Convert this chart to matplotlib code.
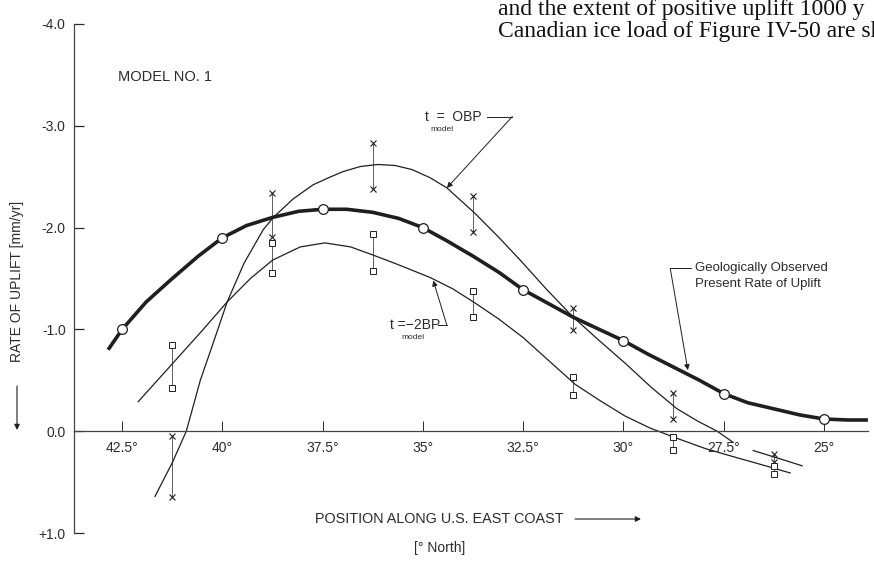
import matplotlib.pyplot as plt

plt.rcParams['font.family'] = ['Liberation Sans', 'DejaVu Sans']

# observed present rate of uplift at the coastal stations (deg N, mm/yr; negative = uplift)
obs_lat = [42.5, 40.0, 37.5, 35.0, 32.5, 30.0, 27.5, 25.0]
obs_rate = [-1.00, -1.90, -2.18, -2.00, -1.39, -0.89, -0.37, -0.12]

# smooth hand-drawn curve through the observed rates
obs_curve_lat = [42.85, 42.5, 41.9, 41.25, 40.6, 40.0, 39.4, 38.75, 38.1, 37.5,
                 36.9, 36.25, 35.6, 35.0, 34.4, 33.75, 33.1, 32.5, 31.85, 31.25,
                 30.6, 30.0, 29.4, 28.75, 28.1, 27.5, 26.9, 26.25, 25.6, 25.0,
                 24.4, 23.9]
obs_curve_rate = [-0.80, -1.00, -1.27, -1.50, -1.72, -1.90, -2.02, -2.10, -2.16, -2.18,
                  -2.18, -2.15, -2.09, -2.00, -1.87, -1.72, -1.56, -1.39, -1.25, -1.12,
                  -1.00, -0.89, -0.76, -0.63, -0.50, -0.37, -0.28, -0.22, -0.16, -0.12,
                  -0.11, -0.11]

# model t = 0 BP (broken where the 27.5 label sits)
bp0_lat_a = [41.68, 41.25, 40.90, 40.55, 40.2, 39.88, 39.46, 38.98, 38.73, 38.24,
             37.74, 37.35, 36.99, 36.56, 36.12, 35.69, 35.27, 34.82, 34.40, 33.70,
             33.12, 32.57, 31.93, 31.25, 30.6, 29.96, 29.3, 28.66, 28.15, 27.66,
             27.26]
bp0_rate_a = [0.64, 0.31, 0.00, -0.50, -0.90, -1.27, -1.65, -1.98, -2.10, -2.28,
              -2.42, -2.49, -2.55, -2.60, -2.62, -2.61, -2.57, -2.49, -2.39, -2.14,
              -1.91, -1.68, -1.40, -1.12, -0.89, -0.67, -0.43, -0.22, -0.10, 0.00,
              0.11]
bp0_lat_b = [26.76, 26.1, 25.54]
bp0_rate_b = [0.19, 0.27, 0.34]

# model t = -2 BP
bp2_lat = [42.10, 41.23, 40.50, 39.88, 39.3, 38.75, 38.06, 37.44, 36.8, 36.24,
           35.64, 34.82, 34.26, 33.70, 33.1, 32.50, 31.85, 31.20, 30.58, 29.96,
           29.33, 28.66, 27.96, 27.26, 26.54, 25.84]
bp2_rate = [-0.29, -0.67, -0.99, -1.27, -1.50, -1.68, -1.81, -1.85, -1.81, -1.73,
            -1.64, -1.51, -1.40, -1.26, -1.10, -0.92, -0.69, -0.46, -0.30, -0.15,
            -0.03, 0.07, 0.17, 0.25, 0.33, 0.41]

# range bars of the two model runs at the tide-gauge sites
bar_lat = [41.25, 38.75, 36.25, 33.75, 31.25, 28.75, 26.25]
bp0_lo = [0.05, -2.34, -2.83, -2.31, -1.21, -0.38, 0.22]
bp0_hi = [0.65, -1.91, -2.38, -1.96, -0.99, -0.12, 0.30]
bp2_lo = [-0.85, -1.85, -1.94, -1.38, -0.53, 0.06, 0.34]
bp2_hi = [-0.42, -1.55, -1.57, -1.12, -0.36, 0.18, 0.42]

xticks = [42.5, 40, 37.5, 35, 32.5, 30, 27.5, 25]
xtick_labels = ['42.5°', '40°', '37.5°', '35°', '32.5°', '30°', '27.5°', '25°']
yticks = [-4, -3, -2, -1, 0, 1]
ytick_labels = ['-4.0', '-3.0', '-2.0', '-1.0', '0.0', '+1.0']

ink = '#1f1f1f'
txt = '#2b2b2b'

fig = plt.figure(figsize=(8.74, 5.62), dpi=100)
ax = fig.add_axes([0.0847, 0.0516, 0.9083, 0.9057])
ax.set_xlim(43.7, 23.9)
ax.set_ylim(1.0, -4.0)

# curves
ax.plot(obs_curve_lat, obs_curve_rate, color=ink, lw=2.6, solid_capstyle='butt',
        solid_joinstyle='round', zorder=3)
ax.plot(obs_lat, obs_rate, 'o', ms=7, mfc='white', mec=ink, mew=0.9, zorder=4)
ax.plot(bp0_lat_a, bp0_rate_a, color=ink, lw=0.9, solid_joinstyle='round', zorder=2)
ax.plot(bp0_lat_b, bp0_rate_b, color=ink, lw=0.9, zorder=2)
ax.plot(bp2_lat, bp2_rate, color=ink, lw=0.9, solid_joinstyle='round', zorder=2)

# range bars
ax.vlines(bar_lat, bp0_lo, bp0_hi, color=ink, lw=0.5, zorder=2)
ax.vlines(bar_lat, bp2_lo, bp2_hi, color=ink, lw=0.5, zorder=2)
ax.plot(bar_lat + bar_lat, bp0_lo + bp0_hi, 'x', ms=4, mew=0.8, color=ink, zorder=4)
ax.plot(bar_lat + bar_lat, bp2_lo + bp2_hi, 's', ms=4.5, mfc='white', mec=ink,
        mew=0.7, zorder=4)

# axes styling
for side in ['top', 'right']:
    ax.spines[side].set_visible(False)
ax.spines['bottom'].set_position(('data', 0))
ax.spines['left'].set_color('#444444')
ax.spines['bottom'].set_color('#444444')
ax.spines['left'].set_linewidth(0.9)
ax.spines['bottom'].set_linewidth(0.9)
ax.set_xticks(xticks)
ax.set_xticklabels(xtick_labels)
ax.set_yticks(yticks)
ax.set_yticklabels(ytick_labels)
ax.tick_params(axis='x', direction='in', length=7, width=0.7, pad=7,
               labelsize=10, colors=txt)
ax.tick_params(axis='y', direction='in', length=7, width=0.9, pad=6,
               labelsize=10, colors=txt)

# labels
ax.text(42.6, -3.48, 'MODEL NO. 1', fontsize=10.5, color=txt, ha='left', va='center')

ax.text(34.94, -3.09, 't  =  OBP', fontsize=10, color=txt, ha='left', va='center')
ax.text(34.52, -2.96, 'model', fontsize=6, color=txt, ha='center', va='center')
ax.plot([33.40, 32.77], [-3.09, -3.09], color=ink, lw=0.7)
ax.annotate('', xy=(34.40, -2.39), xytext=(32.77, -3.09),
            arrowprops=dict(arrowstyle='-|>', color=ink, lw=0.7,
                            mutation_scale=8, shrinkA=0, shrinkB=0))

ax.text(35.82, -1.04, 't =−2BP', fontsize=10, color=txt, ha='left', va='center')
ax.text(35.24, -0.92, 'model', fontsize=6, color=txt, ha='center', va='center')
ax.plot([34.62, 34.40], [-1.04, -1.04], color=ink, lw=0.7)
ax.annotate('', xy=(34.74, -1.48), xytext=(34.40, -1.04),
            arrowprops=dict(arrowstyle='-|>', color=ink, lw=0.7,
                            mutation_scale=8, shrinkA=0, shrinkB=0))

ax.text(28.2, -1.60, 'Geologically Observed', fontsize=9.5, color=txt,
        ha='left', va='center')
ax.text(28.2, -1.45, 'Present Rate of Uplift', fontsize=9.5, color=txt,
        ha='left', va='center')
ax.plot([28.83, 28.32], [-1.60, -1.60], color=ink, lw=0.7)
ax.annotate('', xy=(28.39, -0.60), xytext=(28.83, -1.60),
            arrowprops=dict(arrowstyle='-|>', color=ink, lw=0.7,
                            mutation_scale=8, shrinkA=0, shrinkB=0))

# axis titles with their arrows
fig.text(17 / 874, 1 - 281 / 562, 'RATE OF UPLIFT [mm/yr]', rotation=90,
         fontsize=10, color=txt, ha='center', va='center')
ax.annotate('', xy=(17 / 874, 1 - 430 / 562), xycoords='figure fraction',
            xytext=(17 / 874, 1 - 386 / 562), textcoords='figure fraction',
            arrowprops=dict(arrowstyle='-|>', color=ink, lw=0.8,
                            mutation_scale=8, shrinkA=0, shrinkB=0))

fig.text(439 / 874, 1 - 519 / 562, 'POSITION ALONG U.S. EAST COAST', fontsize=10.4,
         color=txt, ha='center', va='center')
ax.annotate('', xy=(641 / 874, 1 - 519 / 562), xycoords='figure fraction',
            xytext=(575 / 874, 1 - 519 / 562), textcoords='figure fraction',
            arrowprops=dict(arrowstyle='-|>', color=ink, lw=0.8,
                            mutation_scale=8, shrinkA=0, shrinkB=0))
fig.text(440 / 874, 1 - 548 / 562, '[° North]', fontsize=10, color=txt,
         ha='center', va='center')

# running text of the page above the figure, running off the right edge
fig.text(498 / 874, 1 - 15 / 562, 'and the extent of positive uplift 1000 y',
         fontsize=17, family='Liberation Serif', color='#111111', va='baseline')
fig.text(498 / 874, 1 - 37 / 562, 'Canadian ice load of Figure IV-50 are sho',
         fontsize=17, family='Liberation Serif', color='#111111', va='baseline')

fig.savefig('out.png', dpi=100, facecolor='white')
